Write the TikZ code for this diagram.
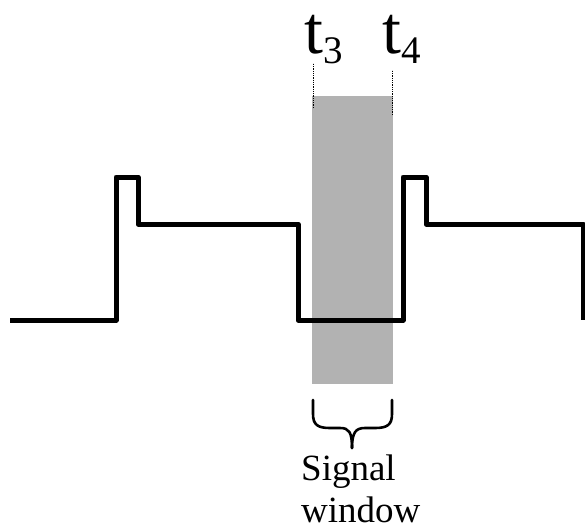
\documentclass[tikz,border=0pt]{standalone}
\usepackage{fontspec}
\setmainfont{Liberation Serif}
\usepackage{tikz}
\usetikzlibrary{positioning,calc}
\tikzset{
  sig/pulse/.style={line width=5pt, line join=round},
  sig/window/.style={fill=black!30, draw=none},
  sig/marker/.style={densely dotted, line width=0.8pt},
  sig/brace/.style={line width=2.6pt, line cap=round},
  sig/tlabel/.style={font=\fontsize{68}{68}\selectfont, inner sep=0pt, anchor=base west},
  sig/caption/.style={font=\fontsize{37}{42}\selectfont, align=left, inner sep=0pt, anchor=base west}
}
\newcommand{\tsub}[1]{t\raisebox{-10pt}{\fontsize{39}{39}\selectfont #1}}

\begin{document}
\begin{tikzpicture}[x=1pt,y=-1pt]
  \useasboundingbox (0,0) rectangle (585,530);

  % window
  \fill[sig/window] (312,96) rectangle (393,384);
  \coordinate (w3) at (313,108);
  \coordinate (w4) at (392,115);
  \node[sig/tlabel] (t3) at (304,53) {\tsub{3}};
  \node[sig/tlabel] (t4) at (382,53) {\tsub{4}};
  \draw[sig/marker] (w3) -- (w3 |- 0,63);
  \draw[sig/marker] (w4) -- (w4 |- 0,70);

  % waveform
  \draw[sig/pulse] (10,320) -- (116,320) -- (116,177) -- (138,177) -- (138,224)
    -- (298,224) -- (298,320) -- (403,320) -- (403,177) -- (426,177) -- (426,224)
    -- (583,224) -- (583,320);

  % brace
  \draw[sig/brace] (313,400) -- (313,414) .. controls (313,425) and (318,428) .. (330,428)
    -- (340,428) .. controls (349,428) and (352,432) .. (352,448);
  \draw[sig/brace] (392,400) -- (392,414) .. controls (392,425) and (387,428) .. (375,428)
    -- (365,428) .. controls (356,428) and (352,432) .. (352,448);
  \node[sig/caption] (cap) at (301,522) {Signal\\window};
\end{tikzpicture}
\end{document}
